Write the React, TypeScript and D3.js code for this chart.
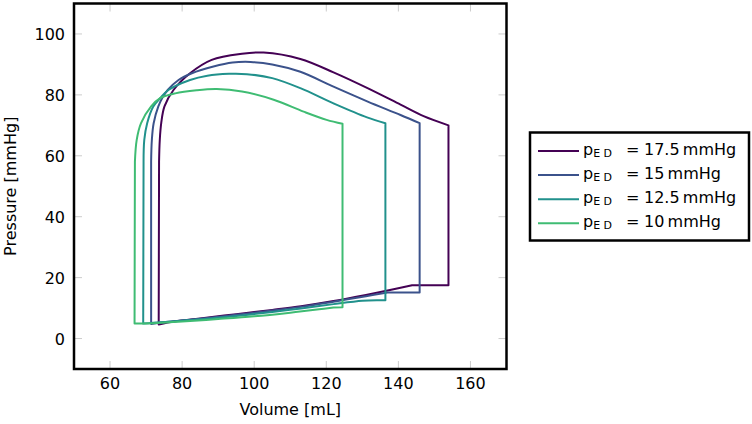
import React from "react";
import * as d3 from "d3";

// ---- data (volume mL, pressure mmHg) ----
const SERIES_LABELS = ["17.5", "15", "12.5", "10"];
const COLORS = ["#440154", "#3b528b", "#21918c", "#3fbc73"];
const X_TICKS = [60, 80, 100, 120, 140, 160];
const Y_TICKS = [0, 20, 40, 60, 80, 100];

// ejection phase: from end-diastolic corner (right) to end-systole (left)
const ejection175: [number, number][] = [
  [153.9, 70.0], [147, 73.0], [140.6, 76.8], [131.3, 82.3], [122, 87.4], [112.8, 91.8],
  [102.6, 93.9], [96.6, 93.5], [88.2, 91.5], [82.2, 87.1], [77.6, 81.6], [75.1, 76.2],
  [74.2, 70.7], [73.8, 65.2], [73.6, 58],
];
const ejection15: [number, number][] = [
  [145.9, 70.7], [140.6, 73.4], [131.5, 77.8], [122, 82.7], [112.8, 87.6], [105, 90.0],
  [99, 90.8], [94, 90.6], [88.7, 89.3], [82.7, 87.1], [79, 84.9], [76, 81.6],
  [74.6, 79.2], [73.4, 76.2], [72.1, 70.7], [71.6, 65.2], [71.4, 58],
];
const ejection125: [number, number][] = [
  [136.4, 70.7], [131.3, 72.6], [122, 77.2], [112.8, 82.2], [105, 85.5], [98, 86.8],
  [93, 86.9], [87, 86.3], [82.2, 84.9], [76.2, 81.6], [73.9, 78.9], [72.0, 76.2],
  [70.3, 70.7], [69.5, 65.2], [69.3, 58],
];
const ejection10: [number, number][] = [
  [124.5, 70.5], [120.1, 71.8], [113.7, 74.5], [105.4, 78.4], [96.6, 81.1], [89.6, 81.9],
  [84, 81.5], [78.1, 80.5], [73.9, 78.9], [71.4, 76.2], [68.6, 70.7], [67.4, 65.2],
  [66.9, 58],
];

// filling phase: from end-systole (bottom left) to end-diastolic pressure
const filling175: [number, number][] = [
  [73.5, 4.6], [76, 5.3], [85, 6.6], [95, 8.0], [105, 9.4], [113, 10.6],
  [122, 12.3], [131, 14.3], [138, 16.0], [143.8, 17.5],
];
const filling15: [number, number][] = [
  [71.4, 4.8], [74, 5.3], [85, 6.5], [95, 7.8], [105, 9.2], [113, 10.4],
  [122, 12.1], [131, 13.9], [137, 15.1],
];
const filling125: [number, number][] = [
  [69.2, 4.9], [72, 5.2], [85, 6.3], [95, 7.4], [105, 8.7], [113, 9.9],
  [122, 11.3], [130, 12.4], [134, 12.6],
];
const filling10: [number, number][] = [
  [66.8, 4.9], [72, 5.0], [80, 5.6], [90, 6.4], [100, 7.3], [110, 8.5],
  [118, 9.6], [122, 10.2],
];

const P_ED = [17.5, 15.1, 12.6, 10.3];
const V_ED = [153.9, 145.9, 136.4, 124.5];

const EJECTIONS = [ejection175, ejection15, ejection125, ejection10];
const FILLINGS = [filling175, filling15, filling125, filling10];

const W = 752;
const H = 424;
const FRAME = { left: 74, top: 3.5, right: 506.5, bottom: 369 };

export default function App() {
  const x = d3.scaleLinear().domain([50, 170]).range([FRAME.left, FRAME.right]);
  const y = d3.scaleLinear().domain([-10, 110]).range([FRAME.bottom, FRAME.top]);

  const smooth = d3
    .line<[number, number]>()
    .x((d) => x(d[0]))
    .y((d) => y(d[1]))
    .curve(d3.curveCatmullRom.alpha(0.5));
  const straight = d3
    .line<[number, number]>()
    .x((d) => x(d[0]))
    .y((d) => y(d[1]));

  const loopPath = (i: number) => {
    const fill = FILLINGS[i];
    const ej = EJECTIONS[i];
    const last = fill[fill.length - 1];
    const ves = ej[ej.length - 1];
    const parts = [
      smooth(fill) as string,
      straight([last, [V_ED[i], P_ED[i]], [V_ED[i], P_ED[i]], ej[0]]) as string,
      smooth(ej) as string,
      straight([ves, fill[0]]) as string,
    ];
    return parts.map((p, k) => (k === 0 ? p : "L" + p.slice(1))).join("");
  };

  const tickColor = "#cccccc";
  const font = "DejaVu Sans, sans-serif";

  return (
    <svg
      width={W}
      height={H}
      style={{ position: "absolute", left: 0, top: 0, background: "#fff" }}
      fontFamily={font}
    >
      <defs>
        <clipPath id="plotclip">
          <rect x={FRAME.left} y={FRAME.top} width={FRAME.right - FRAME.left} height={FRAME.bottom - FRAME.top} />
        </clipPath>
      </defs>
      {/* ticks inside on all four sides */}
      {X_TICKS.map((t) => (
        <g key={"xt" + t}>
          <line x1={x(t)} x2={x(t)} y1={FRAME.bottom} y2={FRAME.bottom - 8} stroke={tickColor} strokeWidth={1} />
          <line x1={x(t)} x2={x(t)} y1={FRAME.top} y2={FRAME.top + 8} stroke={tickColor} strokeWidth={1} />
          <text x={x(t)} y={389} fontSize={16} textAnchor="middle" fill="#000">
            {t}
          </text>
        </g>
      ))}
      {Y_TICKS.map((t) => (
        <g key={"yt" + t}>
          <line x1={FRAME.left} x2={FRAME.left + 8} y1={y(t)} y2={y(t)} stroke={tickColor} strokeWidth={1} />
          <line x1={FRAME.right} x2={FRAME.right - 8} y1={y(t)} y2={y(t)} stroke={tickColor} strokeWidth={1} />
          <text x={65} y={y(t) + 6} fontSize={16} textAnchor="end" fill="#000">
            {t}
          </text>
        </g>
      ))}

      <g clipPath="url(#plotclip)">
        {SERIES_LABELS.map((s, i) => (
          <path
            key={s}
            d={loopPath(i)}
            fill="none"
            stroke={COLORS[i]}
            strokeWidth={2}
            strokeLinejoin="round"
            strokeLinecap="round"
          />
        ))}
      </g>

      <rect
        x={FRAME.left}
        y={FRAME.top}
        width={FRAME.right - FRAME.left}
        height={FRAME.bottom - FRAME.top}
        fill="none"
        stroke="#000"
        strokeWidth={2.5}
      />

      <text x={(FRAME.left + FRAME.right) / 2} y={415} fontSize={16} textAnchor="middle" fill="#000">
        Volume [mL]
      </text>
      <text
        transform={`translate(16,${(FRAME.top + FRAME.bottom) / 2}) rotate(-90)`}
        fontSize={16}
        textAnchor="middle"
        fill="#000"
      >
        Pressure [mmHg]
      </text>

      {/* legend */}
      <rect x={530} y={132.5} width={219} height={108} fill="#fff" stroke="#000" strokeWidth={2.5} />
      {SERIES_LABELS.map((s, i) => {
        const ry = 151 + i * 24.1;
        return (
          <g key={"lg" + s}>
            <line x1={538} x2={579} y1={ry} y2={ry} stroke={COLORS[i]} strokeWidth={2} />
            <text x={583} y={ry + 4} fontSize={16} fill="#000">
              p
              <tspan fontSize={11} dy={1.5}>
                E D
              </tspan>
            </text>
            <text x={626} y={ry + 4} fontSize={16} fill="#000">
              =
            </text>
            <text x={644} y={ry + 4} fontSize={16} fill="#000">
              {s + "\u2009mmHg"}
            </text>
          </g>
        );
      })}
    </svg>
  );
}
